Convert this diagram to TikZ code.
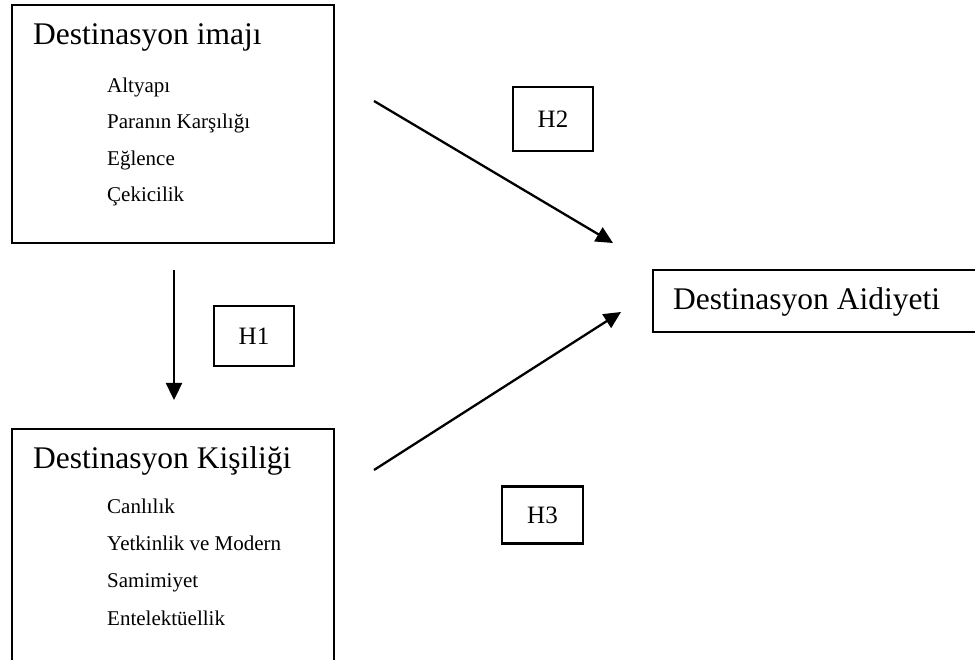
\documentclass[tikz,border=0pt]{standalone}
\usepackage{fontspec}
\setmainfont{Liberation Serif}
\usetikzlibrary{arrows.meta}
\begin{document}
\begin{tikzpicture}[x=1pt,y=-1pt,
  frame/.style={draw, line width=2.1pt, rectangle, inner sep=0pt, anchor=north west},
  hbox/.style={draw, line width=2.1pt, rectangle, inner sep=0pt,
    minimum width=80pt, font=\fontsize{25}{30}\selectfont},
  title/.style={anchor=base west, inner sep=0pt, font=\fontsize{31.5}{36}\selectfont},
  item/.style={anchor=base west, inner sep=0pt, font=\fontsize{21}{25}\selectfont},
  link/.style={line width=2.3pt, -{Triangle[length=17pt,width=16pt]}}]
\useasboundingbox (0,0) rectangle (975,660);

% Destination image block
\node[frame, minimum width=322pt, minimum height=238pt] (imaj) at (11,4) {};
\node[title] (imajT) at (33,45) {Destinasyon imajı};
\node[item] (i1) at (107,93) {Altyapı};
\node[item] (i2) at (107,129) {Paranın Karşılığı};
\node[item] (i3) at (107,166) {Eğlence};
\node[item] (i4) at (107,202) {Çekicilik};

% Destination personality block (runs past the lower edge)
\node[frame, minimum width=322pt, minimum height=300pt] (kisilik) at (11,428) {};
\node[title] (kisT) at (33,468) {Destinasyon Kişiliği};
\node[item] (k1) at (107,513) {Canlılık};
\node[item] (k2) at (107,550) {Yetkinlik ve Modern};
\node[item] (k3) at (107,587) {Samimiyet};
\node[item] (k4) at (107,625) {Entelektüellik};

% Destination attachment block (runs past the right edge)
\node[frame, minimum width=400pt, minimum height=62pt] (aidiyet) at (652,269) {};
\node[title] (aidT) at (673,310) {Destinasyon Aidiyeti};

% Hypothesis labels
\node[hbox, minimum height=60pt] (H1) at (254,336) {H1};
\node[hbox, minimum height=64pt] (H2) at (553,119) {H2};
\node[hbox, minimum height=57pt, minimum width=81pt] (H3) at (542.5,515) {H3};

% Arrow end points
\coordinate (h1s) at (174,270);
\coordinate (h1e) at (174,400);
\coordinate (h2s) at (374,101);
\coordinate (h2e) at (613,243);
\coordinate (h3s) at (374,470);
\coordinate (h3e) at (621,312);

\draw[link] (h1s) -- (h1e);
\draw[link] (h2s) -- (h2e);
\draw[link] (h3s) -- (h3e);
\end{tikzpicture}
\end{document}
